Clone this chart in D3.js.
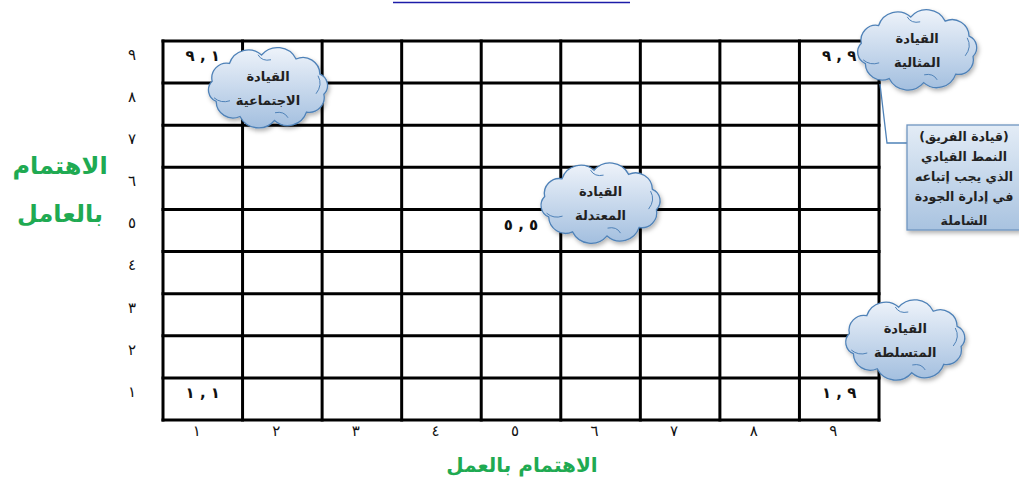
<!DOCTYPE html>
<html>
<head>
<meta charset="utf-8">
<script src="https://cdn.jsdelivr.net/npm/d3@7"></script>
<style>
  body { margin: 0; background: #fff; }
  svg { display: block; font-family: "DejaVu Sans", sans-serif; }
</style>
</head>
<body>
<div id="chart"></div>
<script>
// --- Data ---
const levels = [1, 2, 3, 4, 5, 6, 7, 8, 9];
const arabicDigits = ["٠", "١", "٢", "٣", "٤", "٥", "٦", "٧", "٨", "٩"];

// grid positions that carry a "y , x" label
const cornerPoints = [[1, 9], [9, 9], [5, 5], [1, 1], [9, 1]];

// leadership styles (cloud anchor in grid units)
const styleNames = ["الاجتماعية", "المثالية", "المعتدلة", "المتسلطة"];
const styleX = [1.82, 9.98, 6.0, 9.83];
const styleY = [8.39, 9.29, 5.65, 2.4];
const styleTitle = "القيادة";

const calloutLines = ["(قيادة الفريق)", "النمط القيادي", "الذي يجب إتباعه", "في إدارة الجودة", "الشاملة"];
const yTitleLines = ["الاهتمام", "بالعامل"];
const xTitle = "الاهتمام بالعمل";

// --- Layout ---
const W = 1019, H = 477;
const plot = { left: 163, right: 879, top: 41, bottom: 420 };
const green = "#1faa52";
const arab = n => String(n).split("").map(c => arabicDigits[+c]).join("");

const svg = d3.select("#chart").append("svg")
  .attr("width", W).attr("height", H);

const defs = svg.append("defs");
const cg = defs.append("linearGradient").attr("id", "cloudGrad")
  .attr("x1", 0).attr("y1", 0).attr("x2", 0).attr("y2", 1);
cg.append("stop").attr("offset", "0%").attr("stop-color", "#eef3fa");
cg.append("stop").attr("offset", "100%").attr("stop-color", "#a3bfdf");

const bg = defs.append("linearGradient").attr("id", "boxGrad")
  .attr("x1", 0).attr("y1", 0).attr("x2", 0).attr("y2", 1);
bg.append("stop").attr("offset", "0%").attr("stop-color", "#e3ecf6");
bg.append("stop").attr("offset", "100%").attr("stop-color", "#a9c3e0");

defs.append("filter").attr("id", "shadow")
  .attr("x", "-20%").attr("y", "-20%").attr("width", "140%").attr("height", "150%")
  .append("feDropShadow")
  .attr("dx", 1.5).attr("dy", 2.5).attr("stdDeviation", 2)
  .attr("flood-color", "#000").attr("flood-opacity", 0.3);

// Scales
const x = d3.scaleBand().domain(levels).range([plot.left, plot.right]);
const y = d3.scaleBand().domain(levels.slice().reverse()).range([plot.top, plot.bottom]);
const xl = d3.scaleLinear().domain([0.5, 9.5]).range([plot.left, plot.right]);
const yl = d3.scaleLinear().domain([0.5, 9.5]).range([plot.bottom, plot.top]);

// stray hyperlink underline at the very top
svg.append("line")
  .attr("x1", 393).attr("x2", 630).attr("y1", 2.5).attr("y2", 2.5)
  .attr("stroke", "#1c1ca8").attr("stroke-width", 1.5);

// Grid
const grid = svg.append("g").attr("stroke", "#000").attr("stroke-width", 3)
  .attr("stroke-linecap", "square");
const bounds = d3.range(10).map(i => i + 0.5);
grid.selectAll("line.v").data(bounds).enter().append("line").attr("class", "v")
  .attr("x1", d => xl(d)).attr("x2", d => xl(d))
  .attr("y1", plot.top).attr("y2", plot.bottom);
grid.selectAll("line.h").data(bounds).enter().append("line").attr("class", "h")
  .attr("y1", d => yl(d)).attr("y2", d => yl(d))
  .attr("x1", plot.left).attr("x2", plot.right);

// Axes
const xAxis = svg.append("g")
  .attr("transform", `translate(-6,${plot.bottom})`)
  .call(d3.axisBottom(x).tickSize(0).tickPadding(5).tickFormat(arab));
const yAxis = svg.append("g")
  .attr("transform", `translate(${plot.left},-7)`)
  .call(d3.axisLeft(y).tickSize(0).tickPadding(27).tickFormat(arab));
[xAxis, yAxis].forEach(a => {
  a.select(".domain").remove();
  a.selectAll("text").attr("font-size", 15).attr("fill", "#111")
    .attr("font-family", "DejaVu Sans");
});

// Corner / centre labels
svg.append("g").selectAll("text")
  .data(cornerPoints).enter().append("text")
  .attr("x", d => x(d[0]) + x.bandwidth() / 2)
  .attr("y", d => y(d[1]) + y.bandwidth() / 2 - 1)
  .attr("text-anchor", "middle")
  .attr("direction", "ltr")
  .attr("unicode-bidi", "bidi-override")
  .attr("font-size", 15).attr("font-weight", "bold").attr("fill", "#111")
  .text(d => `${arab(d[1])} , ${arab(d[0])}`);

// Cloud shape around (0,0)
function cloudPath(rx, ry, n) {
  const pts = d3.range(n).map(i => {
    const a = -Math.PI + (i / n) * 2 * Math.PI + 0.2;
    return [rx * Math.cos(a), ry * Math.sin(a)];
  });
  let p = `M${pts[0][0]},${pts[0][1]}`;
  pts.forEach((pt, i) => {
    const nx = pts[(i + 1) % n];
    const chord = Math.hypot(nx[0] - pt[0], nx[1] - pt[1]);
    const r = chord * 0.6;
    p += ` A${r},${r} 0 0 1 ${nx[0]},${nx[1]}`;
  });
  return p + "Z";
}

const clouds = svg.append("g").selectAll("g.cloud")
  .data(styleNames.map((name, i) => ({ name, gx: styleX[i], gy: styleY[i] })))
  .enter().append("g").attr("class", "cloud")
  .attr("transform", d => `translate(${xl(d.gx)},${yl(d.gy)})`);

clouds.append("path")
  .attr("d", cloudPath(57, 33, 10))
  .attr("fill", "url(#cloudGrad)")
  .attr("stroke", "#4f82b8").attr("stroke-width", 1.3)
  .attr("filter", "url(#shadow)");

// little inner curls like the office cloud shape
clouds.append("path")
  .attr("d", "M-54,10 q7,6 16,3 M50,-12 q5,9 -2,18 M-10,-33 q4,7 13,5 M20,30 q-4,-7 -13,-5")
  .attr("fill", "none").attr("stroke", "#4f82b8").attr("stroke-width", 1);

clouds.append("text")
  .attr("text-anchor", "middle").attr("y", -7)
  .attr("font-size", 13).attr("font-weight", "bold").attr("fill", "#222")
  .text(styleTitle);
clouds.append("text")
  .attr("text-anchor", "middle").attr("y", 17)
  .attr("font-size", 13).attr("font-weight", "bold").attr("fill", "#222")
  .text(d => d.name);

// Callout box and connector
svg.append("path")
  .attr("d", "M880,84 L887,143 L908,143")
  .attr("fill", "none").attr("stroke", "#4f82b8").attr("stroke-width", 1.3);

svg.append("rect")
  .attr("x", 907).attr("y", 125).attr("width", 114).attr("height", 105)
  .attr("fill", "url(#boxGrad)").attr("stroke", "#6f95c0").attr("stroke-width", 1.3)
  .attr("filter", "url(#shadow)");

svg.append("g").selectAll("text")
  .data(calloutLines).enter().append("text")
  .attr("x", 964)
  .attr("y", (d, i) => 141 + i * 20 + (i === 4 ? 4 : 0))
  .attr("text-anchor", "middle")
  .attr("font-size", 12.5).attr("font-weight", "bold").attr("fill", "#222")
  .text(d => d);

// Axis titles
svg.append("g").selectAll("text")
  .data(yTitleLines).enter().append("text")
  .attr("x", 60).attr("y", (d, i) => 174 + i * 48)
  .attr("text-anchor", "middle")
  .attr("font-size", 24).attr("font-weight", "bold").attr("fill", green)
  .text(d => d);

svg.append("text")
  .attr("x", 522).attr("y", 472)
  .attr("text-anchor", "middle")
  .attr("font-size", 20).attr("font-weight", "bold").attr("fill", green)
  .text(xTitle);
</script>
</body>
</html>
